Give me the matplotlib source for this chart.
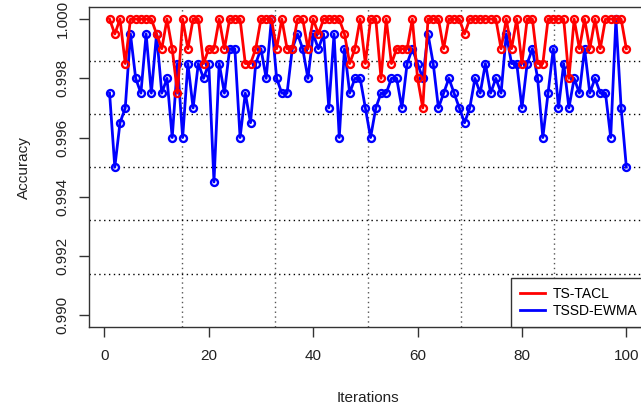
import numpy as np
import matplotlib
matplotlib.use('Agg')
import matplotlib.pyplot as plt
from matplotlib.lines import Line2D

plt.rcParams['font.family'] = ['Liberation Sans', 'DejaVu Sans']

iterations = np.arange(1, 101)

ts_tacl = [
    1.000, 0.9995, 1.000, 0.9985, 1.000, 1.000, 1.000, 1.000, 1.000, 0.9995,
    0.999, 1.000, 0.999, 0.9975, 1.000, 0.999, 1.000, 1.000, 0.9985, 0.999,
    0.999, 1.000, 0.999, 1.000, 1.000, 1.000, 0.9985, 0.9985, 0.999, 1.000,
    1.000, 1.000, 0.999, 1.000, 0.999, 0.999, 1.000, 1.000, 0.999, 1.000,
    0.9995, 1.000, 1.000, 1.000, 1.000, 0.9995, 0.9985, 0.999, 1.000, 0.9985,
    1.000, 1.000, 0.998, 1.000, 0.9985, 0.999, 0.999, 0.999, 1.000, 0.998,
    0.997, 1.000, 1.000, 1.000, 0.999, 1.000, 1.000, 1.000, 0.9995, 1.000,
    1.000, 1.000, 1.000, 1.000, 1.000, 0.999, 1.000, 0.999, 1.000, 0.9985,
    1.000, 1.000, 0.9985, 0.9985, 1.000, 1.000, 1.000, 1.000, 0.998, 1.000,
    0.999, 1.000, 0.999, 1.000, 0.999, 1.000, 1.000, 1.000, 1.000, 0.999,
]

tssd_ewma = [
    0.9975, 0.995, 0.9965, 0.997, 0.9995, 0.998, 0.9975, 0.9995, 0.9975, 0.9995,
    0.9975, 0.998, 0.996, 0.9985, 0.996, 0.9985, 0.997, 0.9985, 0.998, 0.9985,
    0.9945, 0.9985, 0.9975, 0.999, 0.999, 0.996, 0.9975, 0.9965, 0.9985, 0.999,
    0.998, 1.000, 0.998, 0.9975, 0.9975, 0.999, 0.9995, 0.999, 0.998, 0.9995,
    0.999, 0.9995, 0.997, 0.9995, 0.996, 0.999, 0.9975, 0.998, 0.998, 0.997,
    0.996, 0.997, 0.9975, 0.9975, 0.998, 0.998, 0.997, 0.9985, 0.999, 0.9985,
    0.998, 0.9995, 0.9985, 0.997, 0.9975, 0.998, 0.9975, 0.997, 0.9965, 0.997,
    0.998, 0.9975, 0.9985, 0.9975, 0.998, 0.9975, 0.9995, 0.9985, 0.9985, 0.997,
    0.9985, 0.999, 0.998, 0.996, 0.9975, 0.999, 0.997, 0.9985, 0.997, 0.998,
    0.9975, 0.999, 0.9975, 0.998, 0.9975, 0.9975, 0.996, 1.000, 0.997, 0.995,
]

x_ticks = [0, 20, 40, 60, 80, 100]
y_ticks = [0.990, 0.992, 0.994, 0.996, 0.998, 1.000]

fig = plt.figure(figsize=(6.41, 4.13), dpi=100)
ax = fig.add_axes([0.1387, 0.2082, 0.8707, 0.7741])

xlim = (-2.96, 103.96)
ylim = (0.9896, 1.0004)
ax.set_xlim(*xlim)
ax.set_ylim(*ylim)

# dotted grid splitting the plot region into 6 x 6 cells
for k in range(1, 6):
    ax.axvline(xlim[0] + k * (xlim[1] - xlim[0]) / 6, color='#555555',
               ls=(0, (1, 2.5)), lw=1, zorder=0)
    ax.axhline(ylim[0] + k * (ylim[1] - ylim[0]) / 6, color='black',
               ls=(0, (1, 2.5)), lw=1, zorder=0)

style = dict(lw=2, marker='o', ms=5, mfc='none', mew=1.7)
ax.plot(iterations, tssd_ewma, color='blue', zorder=2, **style)
ax.plot(iterations, ts_tacl, color='red', zorder=3, **style)

ax.set_xticks(x_ticks)
ax.set_yticks(y_ticks)
ax.set_yticklabels(['%.3f' % v for v in y_ticks], rotation=90, va='center')
ax.tick_params(direction='out', length=7, width=1, color='#333333',
               labelsize=11, labelcolor='#222222')
ax.tick_params(axis='y', pad=7)
ax.tick_params(axis='x', pad=9)
for s in ax.spines.values():
    s.set_color('#333333')
    s.set_linewidth(1)

ax.set_xlabel('Iterations', fontsize=11, color='#222222')
ax.set_ylabel('Accuracy', fontsize=11, color='#222222')
ax.xaxis.set_label_coords(0.5, -0.2)
ax.yaxis.set_label_coords(-0.104, 0.5)

handles = [Line2D([], [], color='red', lw=2), Line2D([], [], color='blue', lw=2)]
leg = ax.legend(handles, ['TS-TACL', 'TSSD-EWMA'], loc='lower right',
                bbox_to_anchor=(1, 0), borderaxespad=0, fontsize=10,
                fancybox=False, framealpha=1, edgecolor='#333333',
                handlelength=1.8, handletextpad=0.6, borderpad=0.65,
                labelspacing=0.2)
leg.get_frame().set_linewidth(1)
leg.set_zorder(5)

fig.savefig('out.png', dpi=100)
